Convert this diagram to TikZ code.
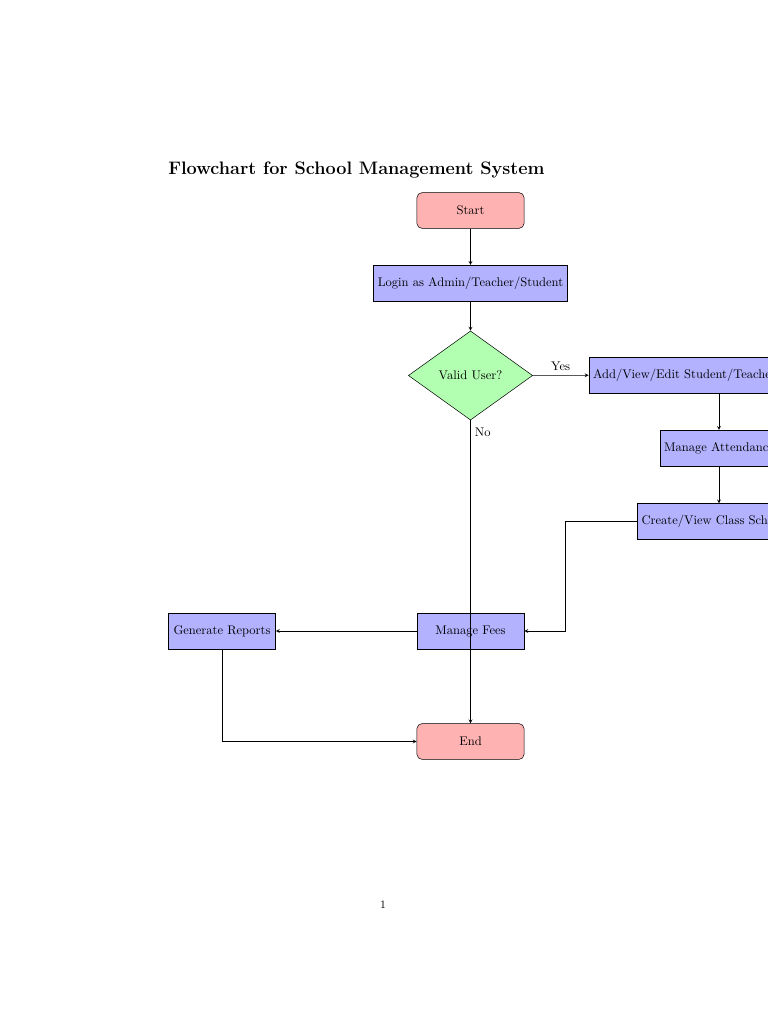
\documentclass[tikz,border=0pt]{standalone}
\usetikzlibrary{shapes.geometric,arrows}
\definecolor{termfill}{rgb}{1,0.7,0.7}
\definecolor{procfill}{rgb}{0.7,0.7,1}
\definecolor{decfill}{rgb}{0.7,1,0.7}
\tikzset{
  termbox/.style={rectangle, rounded corners, minimum width=3cm, minimum height=1cm, draw=black, fill=termfill, align=center},
  procbox/.style={rectangle, minimum width=3cm, minimum height=1cm, draw=black, fill=procfill, align=center},
  decbox/.style={diamond, aspect=1.4, inner sep=0pt, minimum width=99pt, minimum height=71pt, draw=black, fill=decfill, align=center},
  flow/.style={->, >=stealth},
}
\begin{document}
\begin{tikzpicture}[x=0.796875pt, y=-0.796875pt]
\useasboundingbox (0,0) rectangle (768,1024);
\clip (0,0) rectangle (768,1024);
\fill[white] (0,0) rectangle (768,1024);
\node[anchor=base west, inner sep=0pt, font=\Large\bfseries] (title) at (168,174) {Flowchart for School Management System};
\node[termbox] (start) at (470.5,210.5) {Start};
\node[procbox] (login) at (470.5,283) {Login as Admin/Teacher/Student};
\node[decbox] (valid) at (470.5,375.5) {Valid User?};
\node[procbox] (add) at (719,375) {Add/View/Edit Student/Teacher Information};
\node[procbox] (att) at (719,448) {Manage Attendance};
\node[procbox] (sched) at (719,521.5) {Create/View Class Schedule};
\node[procbox] (fees) at (470.5,631) {Manage Fees};
\node[procbox] (rep) at (222,631) {Generate Reports};
\node[termbox] (end) at (470.5,741.5) {End};
\coordinate (bend) at (565,521.5);
\draw[flow] (start) -- (login);
\draw[flow] (login) -- (valid);
\draw[flow] (valid) -- node[above] {Yes} (add);
\draw[flow] (valid) -- node[pos=0.04, right] {No} (end);
\draw[flow] (add) -- (att);
\draw[flow] (att) -- (sched);
\draw[flow] (sched.west) -- (bend) |- (fees.east);
\draw[flow] (fees) -- (rep);
\draw[flow] (rep.south) |- (end.west);
\node[inner sep=0pt] (pagenum) at (383,905) {\small 1};
\end{tikzpicture}
\end{document}
